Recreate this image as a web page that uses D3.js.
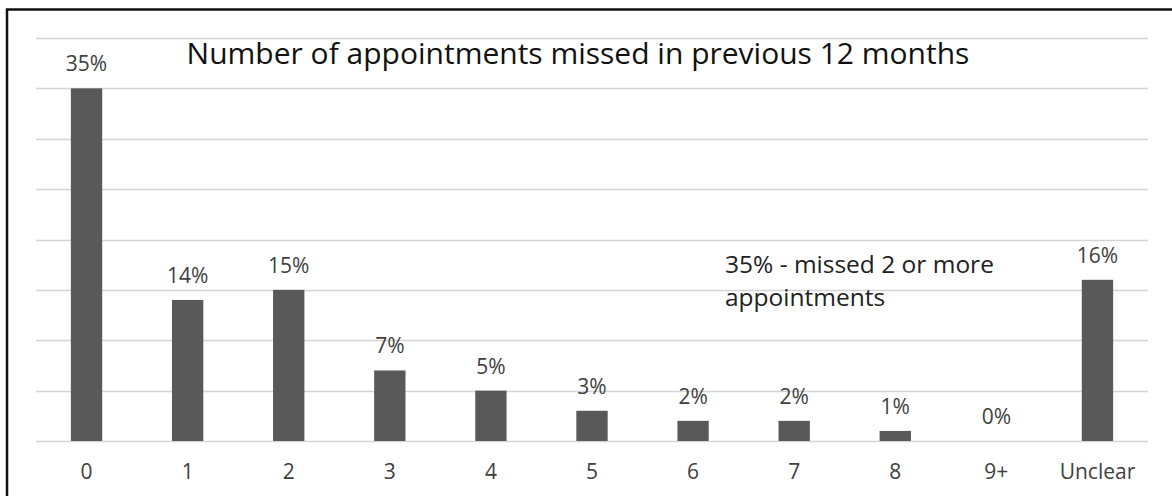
<!DOCTYPE html>
<html>
<head>
<meta charset="utf-8">
<script src="https://cdn.jsdelivr.net/npm/d3@7"></script>
<style>
  html, body { margin: 0; padding: 0; background: #fff; }
  svg { display: block; font-family: 'Open Sans', sans-serif; }
</style>
</head>
<body>
<div id="chart"></div>
<script>
// data
const categories = ['0', '1', '2', '3', '4', '5', '6', '7', '8', '9+', 'Unclear'];
const shares = [35, 14, 15, 7, 5, 3, 2, 2, 1, 0, 16];
const yTicks = [0, 5, 10, 15, 20, 25, 30, 35, 40];
const titleText = 'Number of appointments missed in previous 12 months';
const noteLines = ['35% - missed 2 or more', 'appointments'];

const width = 1172;
const height = 496;
const plot = {left: 36, right: 1148, top: 38, bottom: 441};

const svg = d3.select('#chart').append('svg')
    .attr('width', width)
    .attr('height', height);

// frame (only top and left edges show in the crop)
svg.append('rect')
    .attr('x', 7)
    .attr('y', 9.5)
    .attr('width', width + 20)
    .attr('height', height + 20)
    .attr('fill', 'none')
    .attr('stroke', '#111')
    .attr('stroke-width', 2.5);

const x = d3.scaleBand()
    .domain(categories)
    .range([plot.left, plot.right])
    .paddingInner(0.69)
    .paddingOuter(0.345);

const y = d3.scaleLinear()
    .domain([0, 40])
    .range([plot.bottom, plot.top]);

// gridlines
svg.append('g')
    .selectAll('line')
    .data(yTicks)
    .enter().append('line')
    .attr('x1', plot.left)
    .attr('x2', plot.right)
    .attr('y1', d => Math.round(y(d)) + 0.5)
    .attr('y2', d => Math.round(y(d)) + 0.5)
    .attr('stroke', '#d4d4d4')
    .attr('stroke-width', 1.5);

// bars
svg.append('g')
    .selectAll('rect')
    .data(shares)
    .enter().append('rect')
    .attr('x', (d, i) => x(categories[i]))
    .attr('width', x.bandwidth())
    .attr('y', d => y(d))
    .attr('height', d => y(0) - y(d))
    .attr('fill', '#595959');

// value labels
svg.append('g')
    .selectAll('text')
    .data(shares)
    .enter().append('text')
    .attr('x', (d, i) => x(categories[i]) + x.bandwidth() / 2)
    .attr('y', d => y(d) - 17)
    .attr('text-anchor', 'middle')
    .attr('font-size', 21)
    .attr('fill', '#404040')
    .text(d => d + '%');

// category axis
const xAxis = svg.append('g')
    .attr('transform', `translate(0,${plot.bottom})`)
    .call(d3.axisBottom(x).tickSize(0).tickPadding(0));
xAxis.select('.domain').remove();
xAxis.selectAll('text')
    .attr('dy', 0)
    .attr('y', 38)
    .attr('font-family', "'Open Sans', sans-serif")
    .attr('font-size', 21)
    .attr('fill', '#404040');

// title
svg.append('text')
    .attr('x', 578)
    .attr('y', 64)
    .attr('text-anchor', 'middle')
    .attr('font-size', 30)
    .attr('fill', '#111')
    .text(titleText);

// annotation
svg.append('text')
    .attr('x', 725)
    .attr('y', 273)
    .attr('font-size', 24.5)
    .attr('fill', '#222')
    .selectAll('tspan')
    .data(noteLines)
    .enter().append('tspan')
    .attr('x', 725)
    .attr('dy', (d, i) => i === 0 ? 0 : 33)
    .text(d => d);
</script>
</body>
</html>
